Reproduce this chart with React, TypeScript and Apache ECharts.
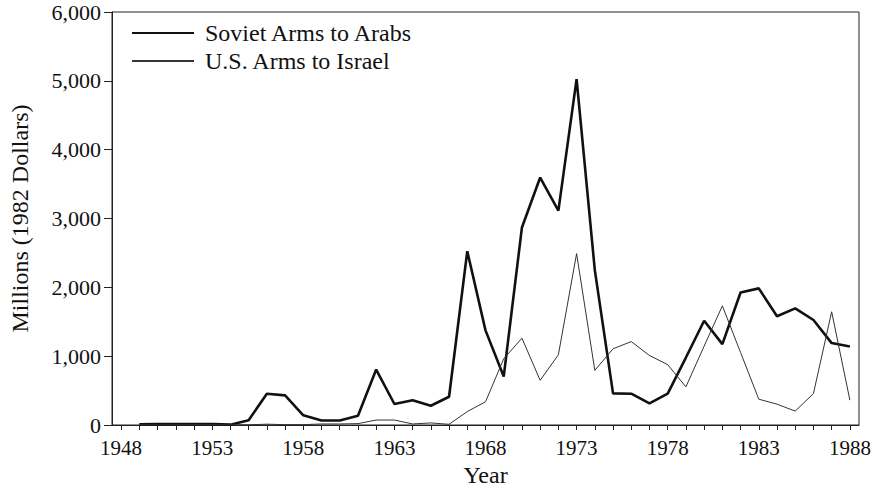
import React, { useEffect, useRef } from "react";
import * as echarts from "echarts";

const years = [
  1949, 1950, 1951, 1952, 1953, 1954, 1955, 1956, 1957, 1958,
  1959, 1960, 1961, 1962, 1963, 1964, 1965, 1966, 1967, 1968,
  1969, 1970, 1971, 1972, 1973, 1974, 1975, 1976, 1977, 1978,
  1979, 1980, 1981, 1982, 1983, 1984, 1985, 1986, 1987, 1988,
];

const sovietArms = [
  10, 15, 15, 15, 15, 5, 70, 455, 430, 140,
  65, 65, 135, 805, 305, 360, 280, 410, 2525, 1375,
  705, 2870, 3595, 3115, 5025, 2250, 460, 455, 315, 455,
  980, 1515, 1175, 1925, 1985, 1580, 1695, 1525, 1190, 1140,
];

const usArms = [
  2, 2, 2, 3, 3, 2, 3, 12, 5, 5,
  15, 15, 20, 72, 72, 15, 30, 10, 195, 337,
  962, 1261, 649, 1020, 2490, 794, 1107, 1212, 1010, 876,
  554, 1146, 1731, 1053, 375, 303, 202, 457, 1645, 361,
];

const xTickYears = [
  1948, 1949, 1950, 1951, 1952, 1953, 1954, 1955, 1956, 1957, 1958,
  1959, 1960, 1961, 1962, 1963, 1964, 1965, 1966, 1967, 1968,
  1969, 1970, 1971, 1972, 1973, 1974, 1975, 1976, 1977, 1978,
  1979, 1980, 1981, 1982, 1983, 1984, 1985, 1986, 1987, 1988,
];
const xLabelYears = [1948, 1953, 1958, 1963, 1968, 1973, 1978, 1983, 1988];

const FONT = '"Liberation Serif", "Times New Roman", serif';

export default function App() {
  const ref = useRef<HTMLDivElement>(null);
  useEffect(() => {
    if (!ref.current) return;
    const chart = echarts.init(ref.current, null, { renderer: "svg" });
    const pair = (vals: number[]) => years.map((y, i) => [y, vals[i]]);
    chart.setOption({
      animation: false,
      backgroundColor: "#fff",
      textStyle: { fontFamily: FONT, color: "#111" },
      grid: {
        left: 108,
        right: 15,
        top: 12,
        bottom: 65,
        show: true,
        borderColor: "#222",
        borderWidth: 1,
      },
      legend: {
        orient: "vertical",
        left: 126,
        top: 16,
        itemWidth: 62,
        itemHeight: 14,
        itemGap: 4,
        itemStyle: { opacity: 0 },
        textStyle: { fontFamily: FONT, fontSize: 24, color: "#111", padding: [0, 0, 0, 6] },
        data: ["Soviet Arms to Arabs", "U.S. Arms to Israel"],
      },
      xAxis: {
        type: "value",
        min: 1947.5,
        max: 1988.5,
        name: "Year",
        nameLocation: "middle",
        nameGap: 38,
        nameTextStyle: { fontFamily: FONT, fontSize: 24, color: "#111" },
        splitLine: { show: false },
        axisLine: { show: true, lineStyle: { color: "#222", width: 1 } },
        axisTick: {
          show: true,
          inside: false,
          length: 5,
          customValues: xTickYears,
          lineStyle: { color: "#222" },
        },
        axisLabel: {
          customValues: xLabelYears,
          fontFamily: FONT,
          fontSize: 21,
          color: "#111",
          margin: 12,
          formatter: (v: number) => String(v),
        },
      },
      yAxis: {
        type: "value",
        min: 0,
        max: 6000,
        interval: 1000,
        name: "Millions (1982 Dollars)",
        nameLocation: "middle",
        nameGap: 80,
        nameRotate: 90,
        nameTextStyle: { fontFamily: FONT, fontSize: 24, color: "#111" },
        splitLine: { show: false },
        axisLine: { show: true, lineStyle: { color: "#222", width: 1 } },
        axisTick: { show: true, inside: false, length: 8, lineStyle: { color: "#222" } },
        axisLabel: {
          fontFamily: FONT,
          fontSize: 22,
          color: "#111",
          margin: 11,
          formatter: (v: number) => v.toLocaleString("en-US"),
        },
      },
      series: [
        {
          name: "Soviet Arms to Arabs",
          type: "line",
          data: pair(sovietArms),
          showSymbol: false,
          symbol: "none",
          lineStyle: { color: "#111", width: 2.6 },
          itemStyle: { color: "#111" },
        },
        {
          name: "U.S. Arms to Israel",
          type: "line",
          data: pair(usArms),
          showSymbol: false,
          symbol: "none",
          lineStyle: { color: "#333", width: 1 },
          itemStyle: { color: "#333" },
        },
      ],
    });
    return () => chart.dispose();
  }, []);
  return (
    <div
      ref={ref}
      style={{ position: "absolute", left: 0, top: 0, width: 874, height: 492 }}
    />
  );
}
